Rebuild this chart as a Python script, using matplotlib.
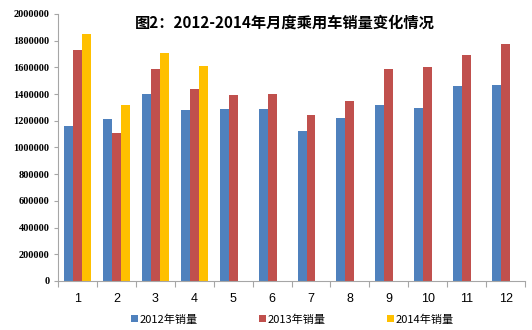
import matplotlib
matplotlib.use("Agg")
import matplotlib.pyplot as plt
import numpy as np

plt.rcParams['font.family'] = ['Noto Sans CJK SC', 'DejaVu Sans']

# Monthly passenger car sales
months = ["1", "2", "3", "4", "5", "6", "7", "8", "9", "10", "11", "12"]
sales_2012 = [1160000, 1215000, 1400000, 1280000, 1285000, 1285000,
              1120000, 1220000, 1315000, 1295000, 1460000, 1465000]
sales_2013 = [1730000, 1110000, 1585000, 1440000, 1395000, 1400000,
              1240000, 1350000, 1590000, 1605000, 1690000, 1775000]
sales_2014 = [1850000, 1315000, 1710000, 1610000]
series_names = ["2012年销量", "2013年销量", "2014年销量"]
yticks = [0, 200000, 400000, 600000, 800000, 1000000, 1200000,
          1400000, 1600000, 1800000, 2000000]

colors = ["#4F81BD", "#C0504D", "#FFC000"]

fig = plt.figure(figsize=(5.32, 3.30), dpi=100)
ax = fig.add_axes([0.109, 0.1485, 0.878, 0.8091])

x = np.arange(len(months))
w = 0.23
ax.bar(x - w, sales_2012, w, color=colors[0], label=series_names[0])
ax.bar(x, sales_2013, w, color=colors[1], label=series_names[1])
ax.bar(np.arange(len(sales_2014)) + w, sales_2014, w, color=colors[2],
       label=series_names[2])

ax.set_xlim(-0.5, len(months) - 0.5)
ax.set_ylim(0, 2000000)
ax.set_yticks(yticks)
ax.set_yticklabels([str(v) for v in yticks], fontsize=7.5, fontweight='bold',
                   family=['Liberation Serif'])
ax.set_xticks(x)
ax.set_xticklabels(months, fontsize=9, family=['Liberation Sans'])
ax.set_xticks(np.arange(len(months) + 1) - 0.5, minor=True)
ax.tick_params(axis='x', which='major', length=0, pad=9)
ax.tick_params(axis='x', which='minor', length=4, color='#A6A6A6', width=0.8)
ax.tick_params(axis='y', length=3, color='#A6A6A6', width=0.8, pad=3)

for s in ['top', 'right']:
    ax.spines[s].set_visible(False)
ax.spines['left'].set_color('#A6A6A6')
ax.spines['bottom'].set_color('#A6A6A6')

fig.text(0.535, 0.932, "图2：2012-2014年月度乘用车销量变化情况", ha='center',
         va='center', fontsize=11, fontweight='bold')

fig.legend(loc='center', bbox_to_anchor=(0.55, 0.032), ncol=3, frameon=False,
           prop={'size': 8}, handlelength=0.6,
           handleheight=0.6, handletextpad=0.2, columnspacing=5.5)

fig.savefig("out.png", dpi=100)
